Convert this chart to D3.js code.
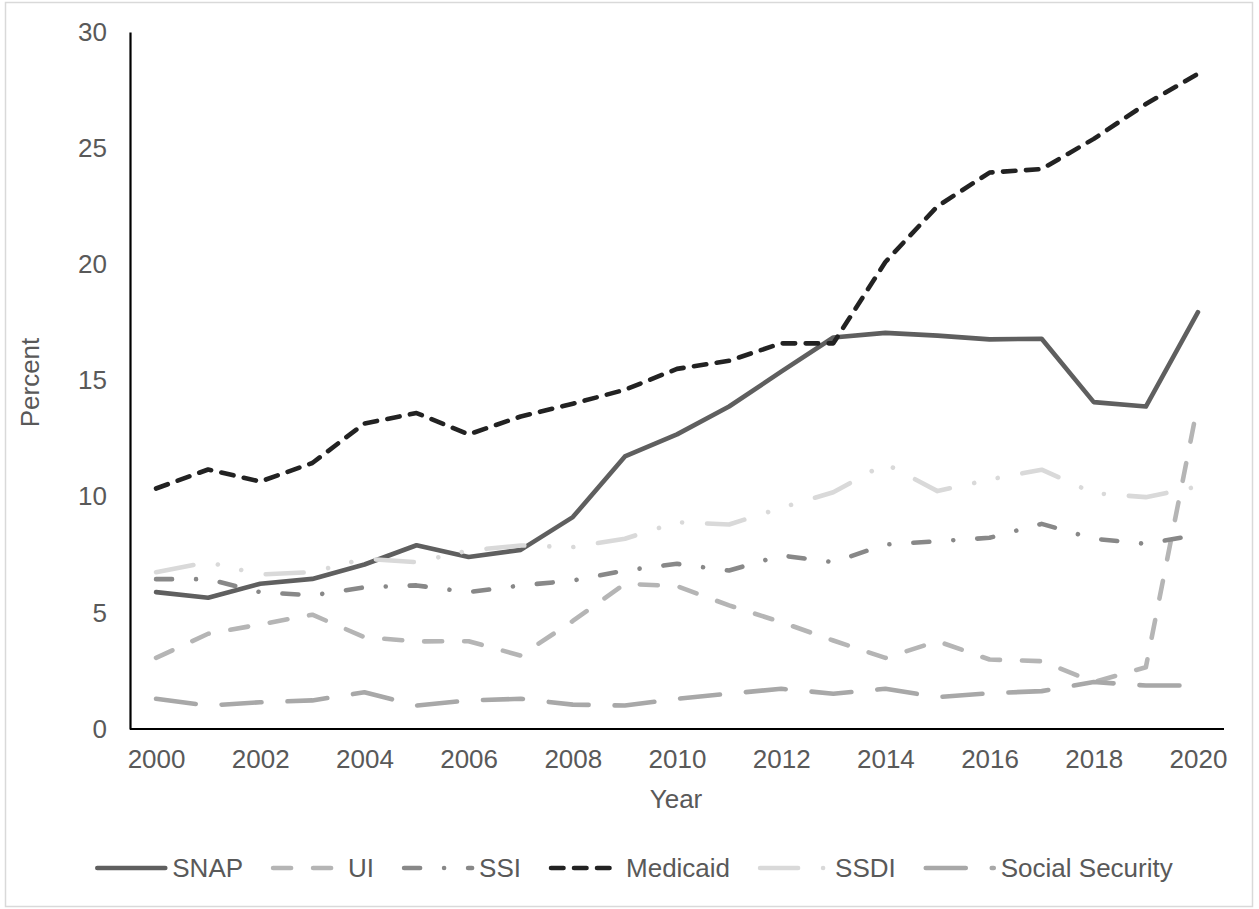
<!DOCTYPE html>
<html>
<head>
<meta charset="utf-8">
<script src="https://cdn.jsdelivr.net/npm/d3@7"></script>
<style>
  html, body { margin: 0; padding: 0; background: #fff; }
  svg { display: block; }
  text { font-family: "Liberation Sans", Arial, sans-serif; fill: #595959; }
</style>
</head>
<body>
<svg id="chart" width="1259" height="909"></svg>
<script>
// Program participation, percent of population, 2000–2020
const years = d3.range(2000, 2021);
const yTicks = [0, 5, 10, 15, 20, 25, 30];
const xTickYears = [2000, 2002, 2004, 2006, 2008, 2010, 2012, 2014, 2016, 2018, 2020];

const snap = [5.89, 5.65, 6.25, 6.46, 7.08, 7.91, 7.40, 7.71, 9.12, 11.73, 12.68, 13.88, 15.38, 16.85, 17.05, 16.93, 16.77, 16.80, 14.07, 13.88, 17.94];
const ui = [3.06, 4.10, 4.50, 4.92, 3.95, 3.77, 3.78, 3.16, 4.65, 6.25, 6.15, 5.32, 4.60, 3.81, 3.06, 3.78, 2.99, 2.92, 2.02, 2.66, 14.00];
const ssi = [6.45, 6.45, 5.89, 5.75, 6.10, 6.18, 5.89, 6.18, 6.39, 6.82, 7.11, 6.82, 7.47, 7.18, 7.94, 8.08, 8.23, 8.83, 8.19, 7.97, 8.36];
const medicaid = [10.35, 11.17, 10.65, 11.45, 13.15, 13.60, 12.68, 13.45, 14.00, 14.60, 15.50, 15.85, 16.60, 16.60, 20.10, 22.50, 23.95, 24.10, 25.40, 26.90, 28.20];
const ssdi = [6.75, 7.18, 6.65, 6.75, 7.33, 7.18, 7.68, 7.90, 7.83, 8.19, 8.90, 8.80, 9.52, 10.19, 11.42, 10.24, 10.74, 11.16, 10.15, 9.98, 10.44];
const socialSecurity = [1.30, 1.01, 1.15, 1.23, 1.58, 1.01, 1.23, 1.30, 1.05, 1.01, 1.30, 1.52, 1.73, 1.52, 1.73, 1.37, 1.54, 1.63, 2.02, 1.87, 1.87];

const seriesNames = ["SNAP", "UI", "SSI", "Medicaid", "SSDI", "Social Security"];
const seriesValues = [snap, ui, ssi, medicaid, ssdi, socialSecurity];

// line styles per series (stroke colour and dash pattern)
const styles = {
  "SNAP":            { color: "#5f5f5f", dash: null },
  "UI":              { color: "#b5b5b5", dash: "18,22" },
  "SSI":             { color: "#888888", dash: "16,24,0.01,24" },
  "Medicaid":        { color: "#222222", dash: "12.5,10.5" },
  "SSDI":            { color: "#d9d9d9", dash: "38,25,0.01,24,0.01,25" },
  "Social Security": { color: "#a8a8a8", dash: "40,26" }
};

const plot = { left: 130, right: 1224, top: 32, bottom: 729 };
const lineWidth = 4.6;
const fontSize = 26;

const svg = d3.select("#chart");

// outer frame
svg.append("rect")
  .attr("x", 5.5).attr("y", 2.5)
  .attr("width", 1247).attr("height", 904)
  .attr("fill", "#fff").attr("stroke", "#d9d9d9").attr("stroke-width", 1.5);

const x = d3.scalePoint()
  .domain(years)
  .range([plot.left, plot.right])
  .padding(0.5);

const y = d3.scaleLinear()
  .domain([0, 30])
  .range([plot.bottom, plot.top]);

// series lines
const line = d3.line()
  .x((d, i) => x(years[i]))
  .y(d => y(d));

const gLines = svg.append("g");
seriesNames.forEach((name, k) => {
  const st = styles[name];
  gLines.append("path")
    .datum(seriesValues[k])
    .attr("d", line)
    .attr("fill", "none")
    .attr("stroke", st.color)
    .attr("stroke-width", lineWidth)
    .attr("stroke-linecap", "round")
    .attr("stroke-linejoin", "round")
    .attr("stroke-dasharray", st.dash);
});

// axes
const yAxis = d3.axisLeft(y).tickValues(yTicks).tickSize(0).tickPadding(23).tickFormat(d3.format("d"));
const gy = svg.append("g").attr("transform", `translate(${plot.left},0)`).call(yAxis);
gy.select(".domain").attr("stroke", "#000").attr("stroke-width", 2.2);
gy.selectAll("text")
  .attr("font-size", fontSize)
  .attr("font-family", "'Liberation Sans', Arial, sans-serif")
  .attr("fill", "#595959");

const xAxis = d3.axisBottom(x).tickValues(xTickYears).tickSize(0).tickPadding(21).tickFormat(d3.format("d"));
const gx = svg.append("g").attr("transform", `translate(0,${plot.bottom})`).call(xAxis);
gx.select(".domain").attr("stroke", "#000").attr("stroke-width", 2.2)
  .attr("d", `M${plot.left},0H${plot.right}`);
gx.selectAll("text")
  .attr("font-size", fontSize)
  .attr("font-family", "'Liberation Sans', Arial, sans-serif")
  .attr("fill", "#595959");

// axis titles
svg.append("text")
  .attr("transform", `translate(39,${(plot.top + plot.bottom) / 2 + 2}) rotate(-90)`)
  .attr("text-anchor", "middle")
  .attr("font-size", fontSize)
  .text("Percent");

svg.append("text")
  .attr("x", (plot.left + plot.right) / 2 - 1)
  .attr("y", 808)
  .attr("text-anchor", "middle")
  .attr("font-size", fontSize)
  .text("Year");

// legend
const legendY = 868;
const symbolLen = 68;
const textGap = 7;
const itemGap = 30;
const gLegend = svg.append("g");
const items = seriesNames.map(name => {
  const g = gLegend.append("g");
  const st = styles[name];
  g.append("path")
    .attr("d", `M0,0H${symbolLen}`)
    .attr("fill", "none")
    .attr("stroke", st.color)
    .attr("stroke-width", lineWidth)
    .attr("stroke-linecap", "round")
    .attr("stroke-dasharray", st.dash);
  const t = g.append("text")
    .attr("x", symbolLen + textGap)
    .attr("y", 0)
    .attr("dy", "0.35em")
    .attr("font-size", fontSize)
    .text(name);
  const w = symbolLen + textGap + t.node().getComputedTextLength();
  return { g, w };
});
const total = d3.sum(items, d => d.w) + itemGap * (items.length - 1);
let cx = 635 - total / 2;
items.forEach(it => {
  it.g.attr("transform", `translate(${cx},${legendY})`);
  cx += it.w + itemGap;
});
</script>
</body>
</html>
